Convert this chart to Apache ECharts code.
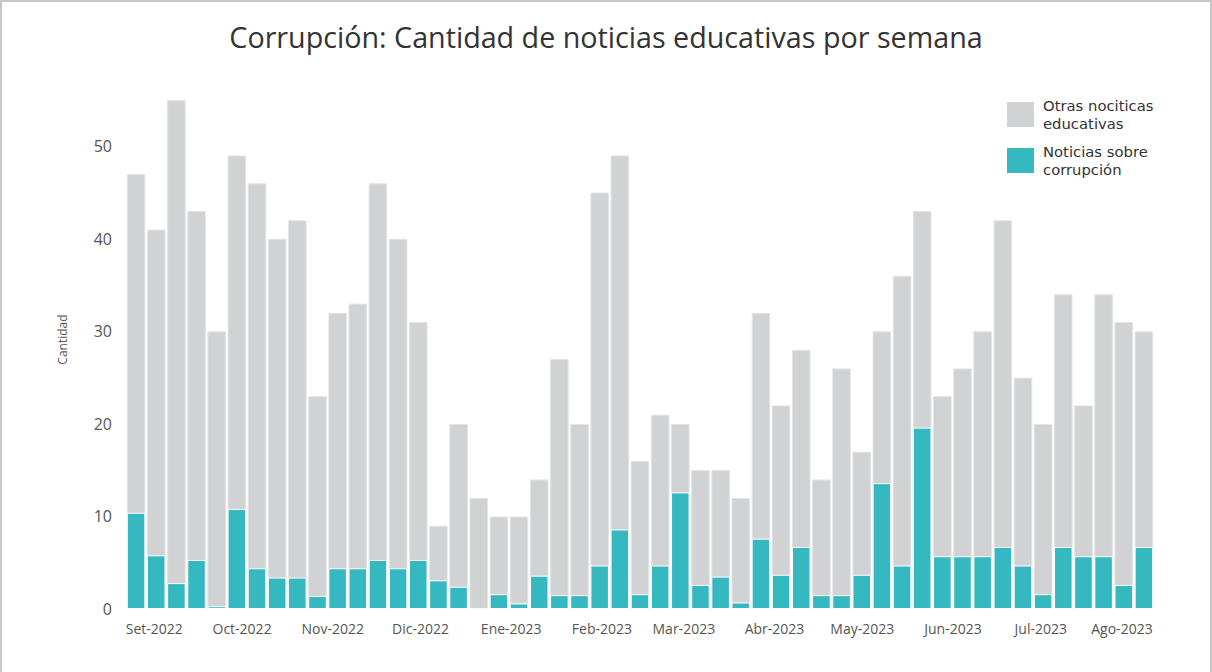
<!DOCTYPE html>
<html>
<head>
<meta charset="utf-8">
<script src="https://cdn.jsdelivr.net/npm/echarts@6/dist/echarts.min.js"></script>
<style>
html,body{margin:0;padding:0;background:#fff;overflow:hidden;}
#wrap{position:relative;width:1212px;height:672px;}
#c{position:absolute;left:0;top:0;width:1212px;height:672px;}
#frame{position:absolute;left:0;top:0;width:1208px;height:670px;border-top:2px solid #c6c6c6;border-left:2px solid #c6c6c6;border-right:2px solid #c6c6c6;pointer-events:none;}
</style>
</head>
<body>
<div id="wrap"><div id="c"></div><div id="frame"></div></div>
<script>
// ---- data ----
const semanas = ['S01','S02','S03','S04','S05','S06','S07','S08','S09','S10',
  'S11','S12','S13','S14','S15','S16','S17','S18','S19','S20',
  'S21','S22','S23','S24','S25','S26','S27','S28','S29','S30',
  'S31','S32','S33','S34','S35','S36','S37','S38','S39','S40',
  'S41','S42','S43','S44','S45','S46','S47','S48','S49','S50','S51'];

// total de noticias educativas por semana (altura total de la barra)
const totalNoticias = [47,41,55,43,30,49,46,40,42,23,
  32,33,46,40,31,9,20,12,10,10,
  14,27,20,45,49,16,21,20,15,15,
  12,32,22,28,14,26,17,30,36,43,
  23,26,30,42,25,20,34,22,34,31,30];

// noticias sobre corrupción (parte turquesa)
const noticiasCorrupcion = [10.4,5.8,2.8,5.3,0.3,10.8,4.4,3.4,3.4,1.4,
  4.4,4.4,5.3,4.4,5.3,3.1,2.4,0,1.6,0.6,
  3.6,1.5,1.5,4.7,8.6,1.6,4.7,12.6,2.6,3.5,
  0.7,7.6,3.7,6.7,1.5,1.5,3.7,13.6,4.7,19.6,
  5.7,5.7,5.7,6.7,4.7,1.6,6.7,5.7,5.7,2.6,6.7];

const mesesTicks = ['2022-09-01','2022-10-01','2022-11-01','2022-12-01','2023-01-01','2023-02-01',
  '2023-03-01','2023-04-01','2023-05-01','2023-06-01','2023-07-01','2023-08-01'];
const mesesLabels = ['Set-2022','Oct-2022','Nov-2022','Dic-2022','Ene-2023','Feb-2023',
  'Mar-2023','Abr-2023','May-2023','Jun-2023','Jul-2023','Ago-2023'];
const periodo = ['2022-08-22T07:40:00Z','2023-08-08T17:00:00Z'];

const serieOtras = 'Otras nociticas educativas';
const serieCorr = 'Noticias sobre corrupción';

// ---- chart ----
const FONT = '"Open Sans", "Noto Sans", sans-serif';
const LEG_FONT = '"DejaVu Sans", "Open Sans", sans-serif';
const tickMs = mesesTicks.map(d => Date.parse(d + 'T00:00:00Z'));
const chart = echarts.init(document.getElementById('c'), null, {renderer: 'svg'});
chart.setOption({
  animation: false,
  backgroundColor: '#ffffff',
  textStyle: {fontFamily: FONT},
  title: {
    text: 'Corrupción: Cantidad de noticias educativas por semana',
    left: 'center', top: 14,
    textStyle: {fontFamily: FONT, fontSize: 28.7, fontWeight: 'normal', color: '#333333', lineHeight: 34}
  },
  legend: {
    orient: 'vertical', left: 1002, top: 92,
    itemWidth: 27, itemHeight: 25, itemGap: 11,
    icon: 'rect', selectedMode: false,
    data: [serieOtras, serieCorr],
    formatter: n => n.replace(/ (\S+)$/, '\n$1'),
    itemStyle: {borderWidth: 0},
    textStyle: {fontFamily: LEG_FONT, fontSize: 14.8, lineHeight: 17.5, color: '#333333', padding: [0, 0, 0, 4]}
  },
  grid: {left: 126, right: 58, top: 100, bottom: 63, outerBoundsMode: 'none'},
  xAxis: [
    {
      type: 'category', data: semanas,
      axisLine: {show: false}, axisTick: {show: false}, axisLabel: {show: false}, splitLine: {show: false}
    },
    {
      type: 'value', position: 'bottom',
      min: Date.parse(periodo[0]), max: Date.parse(periodo[1]),
      axisLine: {show: false}, axisTick: {show: false}, splitLine: {show: false},
      axisLabel: {
        customValues: tickMs,
        formatter: v => {
          const i = tickMs.indexOf(v);
          if (i < 0) return '';
          return i === mesesLabels.length - 1 ? '{fin|' + mesesLabels[i] + '}' : mesesLabels[i];
        },
        rich: {fin: {fontSize: 14, color: '#555555', fontFamily: FONT, padding: [0, 19, 0, 0]}},
        color: '#555555', fontSize: 14, margin: 12, fontFamily: FONT
      }
    }
  ],
  yAxis: {
    type: 'value', min: 0, max: 55, interval: 10,
    axisLine: {show: false}, axisTick: {show: false}, splitLine: {show: false},
    axisLabel: {showMaxLabel: false, color: '#555555', fontSize: 16, margin: 14, fontFamily: FONT},
    name: 'Cantidad', nameLocation: 'middle', nameRotate: 90, nameGap: 58,
    nameTextStyle: {color: '#555555', fontSize: 12, fontFamily: FONT, padding: [0, 0, 0, 30]}
  },
  series: [
    {
      name: serieOtras, type: 'bar', xAxisIndex: 0, data: totalNoticias,
      barCategoryGap: '8%',
      itemStyle: {color: '#d1d2d4', borderColor: '#e3e3e5', borderWidth: 1}
    },
    {
      name: serieCorr, type: 'bar', xAxisIndex: 0, data: noticiasCorrupcion,
      barGap: '-100%', barCategoryGap: '8%',
      itemStyle: {color: '#36b8c1', borderColor: '#ffffff', borderWidth: 1}
    }
  ]
});
</script>
</body>
</html>
